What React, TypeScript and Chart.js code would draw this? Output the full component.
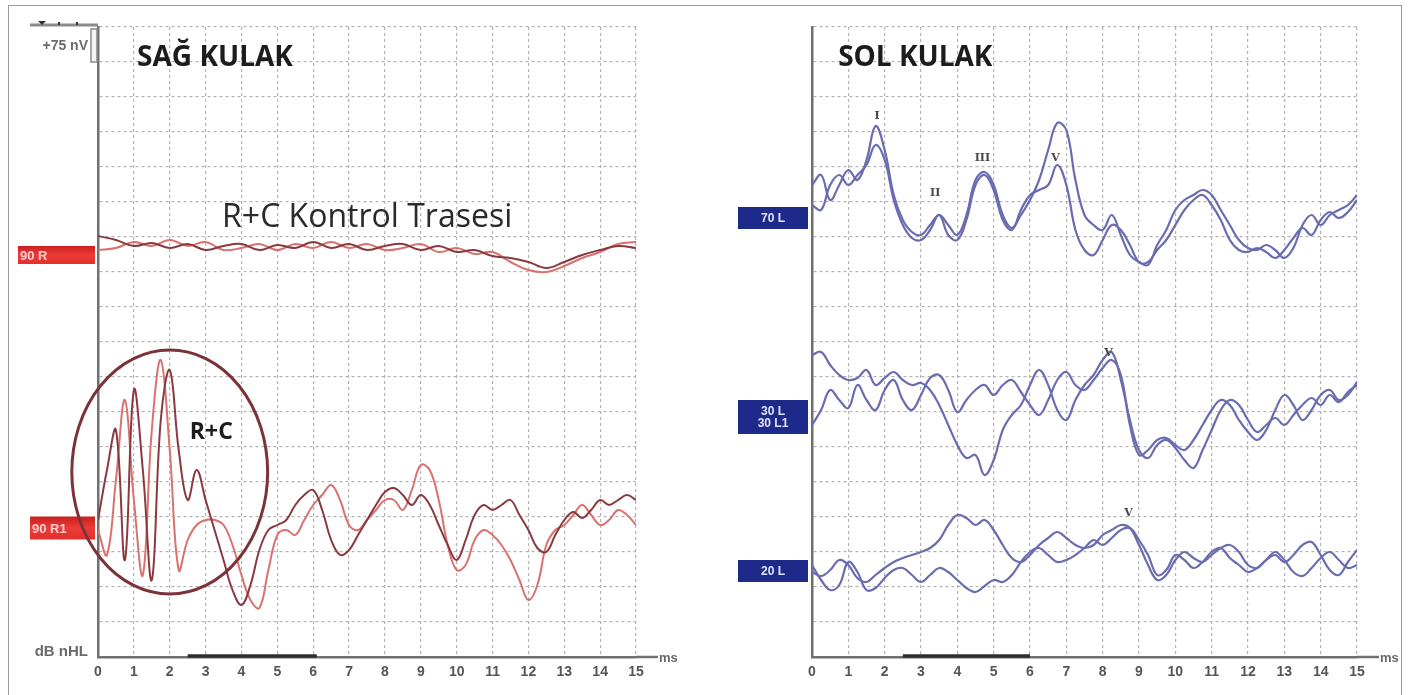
import React, { useEffect, useRef } from "react";
import { Chart, registerables } from "chart.js";

Chart.register(...registerables);

// ---------- time bases (ms) ----------
const TIME_MS = [
  0, 0.25, 0.5, 0.75, 1, 1.25, 1.5, 1.75, 2, 2.25, 2.5, 2.75, 3, 3.25, 3.5, 3.75,
  4, 4.25, 4.5, 4.75, 5, 5.25, 5.5, 5.75, 6, 6.25, 6.5, 6.75, 7, 7.25, 7.5, 7.75,
  8, 8.25, 8.5, 8.75, 9, 9.25, 9.5, 9.75, 10, 10.25, 10.5, 10.75, 11, 11.25, 11.5,
  11.75, 12, 12.25, 12.5, 12.75, 13, 13.25, 13.5, 13.75, 14, 14.25, 14.5, 14.75, 15,
];
const TIME_MS_COARSE = [
  0, 0.5, 1, 1.5, 2, 2.5, 3, 3.5, 4, 4.5, 5, 5.5, 6, 6.5, 7, 7.5, 8, 8.5, 9, 9.5,
  10, 10.5, 11, 11.5, 12, 12.5, 13, 13.5, 14, 14.5, 15,
];
const X_TICKS = [0, 1, 2, 3, 4, 5, 6, 7, 8, 9, 10, 11, 12, 13, 14, 15];

// ---------- channel baselines (amplitude units, 35 units per grid division) ----------
const BASE_90R = 402;
const BASE_90R1 = 129;
const BASE_70L = 439;
const BASE_30L = 240;
const BASE_20L = 86;

// ---------- SAĞ KULAK: R+C control trace (90 R) ----------
const CTRL_90R_A = [19, 15, 9, 12, 7, 11, 5, 9, 11, 5, 10, 7, 13, 7, 11, 5, 9, 11, 5, 9, 3, 5, -1, -3, -7, -13, -7, 0, 5, 9, 7];
const CTRL_90R_B = [5, 7, 13, 9, 15, 9, 13, 5, 7, 11, 5, 11, 7, 13, 7, 11, 5, 7, 11, 3, 7, 1, 3, -7, -15, -17, -11, -3, 3, 11, 13];

// ---------- SAĞ KULAK: 90 R1 (R+C) ----------
const RC_90R1_A = [
  8, 58, 98, -32, 138, 58, -52, 108, 158, 78, 28, 58, 28, -2, -32, -62, -77, -57, -22, -2,
  3, 8, 23, 33, 38, 18, -12, -27, -22, -7, 8, 23, 36, 40, 33, 23, 33, 23, 3, -17,
  -32, -12, 13, 23, 18, 23, 28, 13, -2, -20, -24, -7, 8, 16, 10, 18, 28, 23, 28, 33, 28,
];
const RC_90R1_B = [
  -2, -27, 48, 128, 28, -47, 98, 168, 78, -42, -12, 3, 8, 8, 3, -17, -47, -72, -80, -42,
  -7, -2, -7, 8, 23, 33, 43, 28, 3, -2, 8, 18, 28, 28, 18, 38, 63, 58, 28, -17,
  -42, -37, -12, -2, -7, -17, -32, -52, -72, -57, -17, -2, 3, 13, 23, 13, 3, 8, 18, 13, 3,
];

// ---------- SOL KULAK ----------
const L70_A = [
  33, 43, 18, 33, 48, 38, 58, 92, 68, 23, -2, -14, -17, -7, 3, -7, -17, 3, 38, 46,
  33, 3, -10, 3, 18, 38, 68, 95, 88, 38, 3, -7, -12, 3, -17, -37, -44, -47, -27, -12,
  8, 18, 23, 28, 23, 8, -7, -22, -30, -32, -27, -32, -40, -30, -7, 3, -7, 3, 8, 13, 23,
];
const L70_B = [
  13, 8, 33, 43, 33, 43, 53, 73, 58, 18, -7, -20, -22, -12, 3, -17, -22, -2, 33, 43,
  28, -2, -12, 8, 23, 28, 33, 53, 33, -12, -32, -37, -22, -7, -12, -27, -44, -44, -32, -22,
  -7, 8, 18, 23, 13, -2, -22, -32, -34, -30, -34, -40, -32, -20, -10, -17, -2, 6, 0, 6, 18,
];
const L30_A = [
  62, 65, 52, 42, 37, 39, 47, 32, 39, 45, 37, 32, 34, 27, 12, -8, -28, -41, -38, -58,
  -43, -13, 2, 12, 32, 47, 32, 7, -3, 17, 32, 42, 57, 65, 37, -3, -33, -41, -28, -23,
  -31, -43, -51, -33, -13, 7, 17, 12, -3, -15, -8, -1, -8, 2, 12, 19, 12, 22, 15, 25, 32,
];
const L30_B = [
  -8, 7, 27, 17, 9, 32, 17, 7, 27, 37, 17, 7, 22, 39, 42, 27, 5, 17, 27, 32,
  22, 32, 37, 25, 12, 2, 17, 37, 45, 32, 27, 37, 49, 57, 42, -8, -38, -33, -23, -21,
  -28, -33, -23, -8, 7, 17, 12, -3, -15, -23, -13, 7, 22, 12, -3, 7, 22, 27, 17, 22, 35,
];
const L20_A = [
  -1, -5, 1, 11, 6, -7, -11, -4, 3, 9, 13, 16, 19, 23, 31, 46, 56, 53, 46, 51,
  41, 26, 13, 9, 16, 26, 33, 39, 33, 26, 23, 26, 36, 41, 46, 43, 26, 6, -9, -4,
  11, 19, 13, 9, 16, 23, 26, 19, 6, 3, 11, 16, 9, 16, 26, 29, 16, 1, -4, 9, 21,
];
const L20_B = [
  6, -9, -19, -14, 9, -1, -19, -17, -7, 1, 3, -4, -11, -4, 3, -1, -9, -17, -21, -15,
  -9, -11, -4, 9, 19, 23, 16, 9, 11, 16, 23, 31, 26, 33, 41, 43, 31, 16, -4, 1,
  16, 11, 3, 9, 19, 23, 13, 6, -1, 3, 11, 19, 11, -1, -5, 3, 13, 19, 11, 3, 6,
];

// ---------- peak markers (time ms, amplitude value) ----------
const PEAK_LABELS = ["I", "II", "III", "V", "V", "V"];
const PEAK_T = [1.79, 3.39, 4.69, 6.7, 8.16, 8.71];
const PEAK_V = [539, 462, 497, 497, 302, 142];

// ---------- styles ----------
const DARK_RED = "#8a3a3f";
const LIGHT_RED = "#d9726e";
const BLUE = "#6a6cb0";
const GRID = "#b3b3b3";
const AXIS = "#707070";
const TICK = "#555555";

function pts(times: number[], amps: number[], base: number) {
  return times.map((t, i) => ({ x: t, y: base + amps[i] }));
}

function line(data: any[], color: string, width = 2) {
  return {
    data,
    borderColor: color,
    borderWidth: width,
    pointRadius: 0,
    tension: 0.4,
    fill: false,
  };
}

function baseOptions(yWidth: number, rightPad: number) {
  return {
    responsive: false,
    animation: false as const,
    events: [],
    layout: { padding: { top: 27, right: rightPad, left: 0, bottom: 0 } },
    plugins: { legend: { display: false }, tooltip: { enabled: false }, title: { display: false } },
    scales: {
      x: {
        type: "linear" as const,
        min: 0,
        max: 15,
        ticks: {
          stepSize: 1,
          autoSkip: false,
          maxRotation: 0,
          padding: 7,
          color: TICK,
          font: { family: "Liberation Sans", size: 14, weight: "bold" as const },
          callback: (v: number) => (X_TICKS.includes(v) ? String(v) : ""),
        },
        grid: { color: GRID, lineWidth: 1.2, drawTicks: false },
        border: { display: true, color: AXIS, width: 2.5, dash: [3, 3] },
        afterFit: (s: any) => {
          s.height = 38;
        },
      },
      y: {
        type: "linear" as const,
        min: 0,
        max: 630,
        ticks: { stepSize: 35, display: false },
        grid: { color: GRID, lineWidth: 1.2, drawTicks: false },
        border: { display: true, color: AXIS, width: 2.5, dash: [3, 3] },
        afterFit: (s: any) => {
          s.width = yWidth;
        },
      },
    },
  };
}

function drawAxisExtras(ctx: CanvasRenderingContext2D, chart: any, barFrom: number, barTo: number) {
  const { chartArea: a, scales } = chart;
  const x = scales.x;
  ctx.strokeStyle = AXIS;
  ctx.lineWidth = 2.5;
  ctx.beginPath();
  ctx.moveTo(a.right, a.bottom);
  ctx.lineTo(a.right + 22, a.bottom);
  ctx.stroke();
  ctx.strokeStyle = "#2e2e2e";
  ctx.lineWidth = 3.5;
  ctx.beginPath();
  ctx.moveTo(x.getPixelForValue(barFrom), a.bottom - 1);
  ctx.lineTo(x.getPixelForValue(barTo), a.bottom - 1);
  ctx.stroke();
  ctx.fillStyle = "#666";
  ctx.font = 'bold 13px "Liberation Sans"';
  ctx.textAlign = "left";
  ctx.textBaseline = "middle";
  ctx.fillText("ms", a.right + 23, a.bottom + 1);
}

const leftOverlay = {
  id: "leftOverlay",
  afterDraw(chart: any) {
    const { ctx, chartArea: a, scales } = chart;
    const x = scales.x;
    const y = scales.y;
    ctx.save();
    drawAxisExtras(ctx, chart, 2.5, 6.1);

    // top ruler and +75 nV scale bar
    ctx.strokeStyle = "#8a8a8a";
    ctx.lineWidth = 3;
    ctx.beginPath();
    ctx.moveTo(30, a.top - 2);
    ctx.lineTo(a.left, a.top - 2);
    ctx.stroke();
    ctx.fillStyle = "#333";
    ctx.beginPath();
    ctx.moveTo(38, a.top - 6);
    ctx.lineTo(46, a.top - 6);
    ctx.lineTo(42, a.top - 2);
    ctx.closePath();
    ctx.fill();
    ctx.fillRect(58, a.top - 5, 2, 3);
    ctx.fillRect(76, a.top - 5, 2, 3);
    ctx.fillStyle = "#f4f4f4";
    ctx.fillRect(a.left - 7, a.top + 2, 6, y.getPixelForValue(595) - (a.top + 2));
    ctx.strokeStyle = "#8a8a8a";
    ctx.lineWidth = 1.5;
    ctx.strokeRect(a.left - 7, a.top + 2, 6, y.getPixelForValue(595) - (a.top + 2));

    ctx.fillStyle = "#6a6a6a";
    ctx.font = 'bold 14px "Liberation Sans"';
    ctx.textAlign = "right";
    ctx.textBaseline = "middle";
    ctx.fillText("+75 nV", a.left - 10, a.top + 19);
    ctx.font = 'bold 15px "Liberation Sans"';
    ctx.fillText("dB nHL", a.left - 10, a.bottom - 5);

    // channel labels
    const redBox = (base: number, w: number, h: number, text: string) => {
      const yc = y.getPixelForValue(base);
      const xr = a.left - 3;
      const g = ctx.createLinearGradient(0, yc - h / 2, 0, yc + h / 2);
      g.addColorStop(0, "#c8201f");
      g.addColorStop(0.5, "#ec3b36");
      g.addColorStop(1, "#e2302c");
      ctx.fillStyle = g;
      ctx.fillRect(xr - w, yc - h / 2, w, h);
      ctx.fillStyle = "#f7cfcf";
      ctx.font = 'bold 13px "Liberation Sans"';
      ctx.textAlign = "left";
      ctx.textBaseline = "middle";
      ctx.fillText(text, xr - w + 2, yc + 1);
    };
    redBox(BASE_90R, 77, 18, "90 R");
    redBox(BASE_90R1, 65, 23, "90 R1");

    // circle around R+C
    const cx = x.getPixelForValue(2.0);
    const cy = y.getPixelForValue(185);
    const rx = x.getPixelForValue(2.73) - x.getPixelForValue(0);
    const ry = y.getPixelForValue(0) - y.getPixelForValue(122);
    ctx.strokeStyle = "#7c3338";
    ctx.lineWidth = 3;
    ctx.beginPath();
    ctx.ellipse(cx, cy, rx, ry, 0, 0, Math.PI * 2);
    ctx.stroke();

    // texts
    ctx.fillStyle = "#1c1c1c";
    ctx.textAlign = "left";
    ctx.textBaseline = "middle";
    ctx.font = 'bold 28px "Open Sans"';
    ctx.fillText("SAĞ KULAK", x.getPixelForValue(1.09), y.getPixelForValue(599));
    ctx.font = '32px "Open Sans"';
    ctx.fillStyle = "#2a2a2a";
    ctx.fillText("R+C Kontrol Trasesi", x.getPixelForValue(3.46), y.getPixelForValue(439));
    ctx.font = 'bold 23px "Open Sans"';
    ctx.fillStyle = "#1c1c1c";
    ctx.fillText("R+C", x.getPixelForValue(2.56), y.getPixelForValue(225));
    ctx.restore();
  },
};

const rightOverlay = {
  id: "rightOverlay",
  afterDraw(chart: any) {
    const { ctx, chartArea: a, scales } = chart;
    const x = scales.x;
    const y = scales.y;
    ctx.save();
    drawAxisExtras(ctx, chart, 2.5, 6.0);

    const blueBox = (base: number, h: number, lines: string[]) => {
      const yc = y.getPixelForValue(base);
      const xr = a.left - 4;
      const w = 70;
      ctx.fillStyle = "#1d2a8a";
      ctx.fillRect(xr - w, yc - h / 2, w, h);
      ctx.fillStyle = "#dfe3fa";
      ctx.font = 'bold 12px "Liberation Sans"';
      ctx.textAlign = "center";
      ctx.textBaseline = "middle";
      const lh = 12;
      lines.forEach((l, i) => {
        ctx.fillText(l, xr - w / 2, yc + (i - (lines.length - 1) / 2) * lh + 1);
      });
    };
    blueBox(BASE_70L, 22, ["70 L"]);
    blueBox(BASE_30L, 34, ["30 L", "30 L1"]);
    blueBox(BASE_20L, 22, ["20 L"]);

    // peak labels
    ctx.fillStyle = "#4a4a4a";
    ctx.font = 'bold 11px "DejaVu Serif"';
    ctx.textAlign = "center";
    ctx.textBaseline = "bottom";
    PEAK_LABELS.forEach((lab, i) => {
      const px = x.getPixelForValue(PEAK_T[i]);
      const py = y.getPixelForValue(PEAK_V[i]);
      ctx.fillText(lab, px, py + 4);
    });

    ctx.fillStyle = "#1c1c1c";
    ctx.textAlign = "left";
    ctx.textBaseline = "middle";
    ctx.font = 'bold 28px "Open Sans"';
    ctx.fillText("SOL KULAK", x.getPixelForValue(0.72), y.getPixelForValue(599));
    ctx.restore();
  },
};

export default function App() {
  const leftRef = useRef<HTMLCanvasElement | null>(null);
  const rightRef = useRef<HTMLCanvasElement | null>(null);

  useEffect(() => {
    document.body.style.margin = "0";
    const left = new Chart(leftRef.current as HTMLCanvasElement, {
      type: "line",
      data: {
        datasets: [
          line(pts(TIME_MS_COARSE, CTRL_90R_A, BASE_90R), DARK_RED),
          line(pts(TIME_MS_COARSE, CTRL_90R_B, BASE_90R), LIGHT_RED),
          line(pts(TIME_MS, RC_90R1_A, BASE_90R1), DARK_RED),
          line(pts(TIME_MS, RC_90R1_B, BASE_90R1), LIGHT_RED),
        ],
      },
      options: baseOptions(98, 69) as any,
      plugins: [leftOverlay],
    });
    const right = new Chart(rightRef.current as HTMLCanvasElement, {
      type: "line",
      data: {
        datasets: [
          line(pts(TIME_MS, L70_A, BASE_70L), BLUE, 2.2),
          line(pts(TIME_MS, L70_B, BASE_70L), BLUE, 2.2),
          line(pts(TIME_MS, L30_A, BASE_30L), BLUE, 2.2),
          line(pts(TIME_MS, L30_B, BASE_30L), BLUE, 2.2),
          line(pts(TIME_MS, L20_A, BASE_20L), BLUE, 2.2),
          line(pts(TIME_MS, L20_B, BASE_20L), BLUE, 2.2),
        ],
      },
      options: baseOptions(107, 53) as any,
      plugins: [rightOverlay],
    });
    return () => {
      left.destroy();
      right.destroy();
    };
  }, []);

  return (
    <div style={{ position: "absolute", left: 0, top: 0, width: 1410, height: 695, background: "#fff", overflow: "hidden" }}>
      <div
        style={{
          position: "absolute",
          left: 8,
          top: 5,
          width: 1392,
          height: 700,
          borderLeft: "1.5px solid #9a9a9a",
          borderTop: "1.5px solid #9a9a9a",
          borderRight: "1.5px solid #9a9a9a",
        }}
      />
      <canvas
        ref={leftRef}
        width={705}
        height={695}
        style={{ position: "absolute", left: 0, top: 0, width: 705, height: 695 }}
      />
      <canvas
        ref={rightRef}
        width={705}
        height={695}
        style={{ position: "absolute", left: 705, top: 0, width: 705, height: 695 }}
      />
    </div>
  );
}
